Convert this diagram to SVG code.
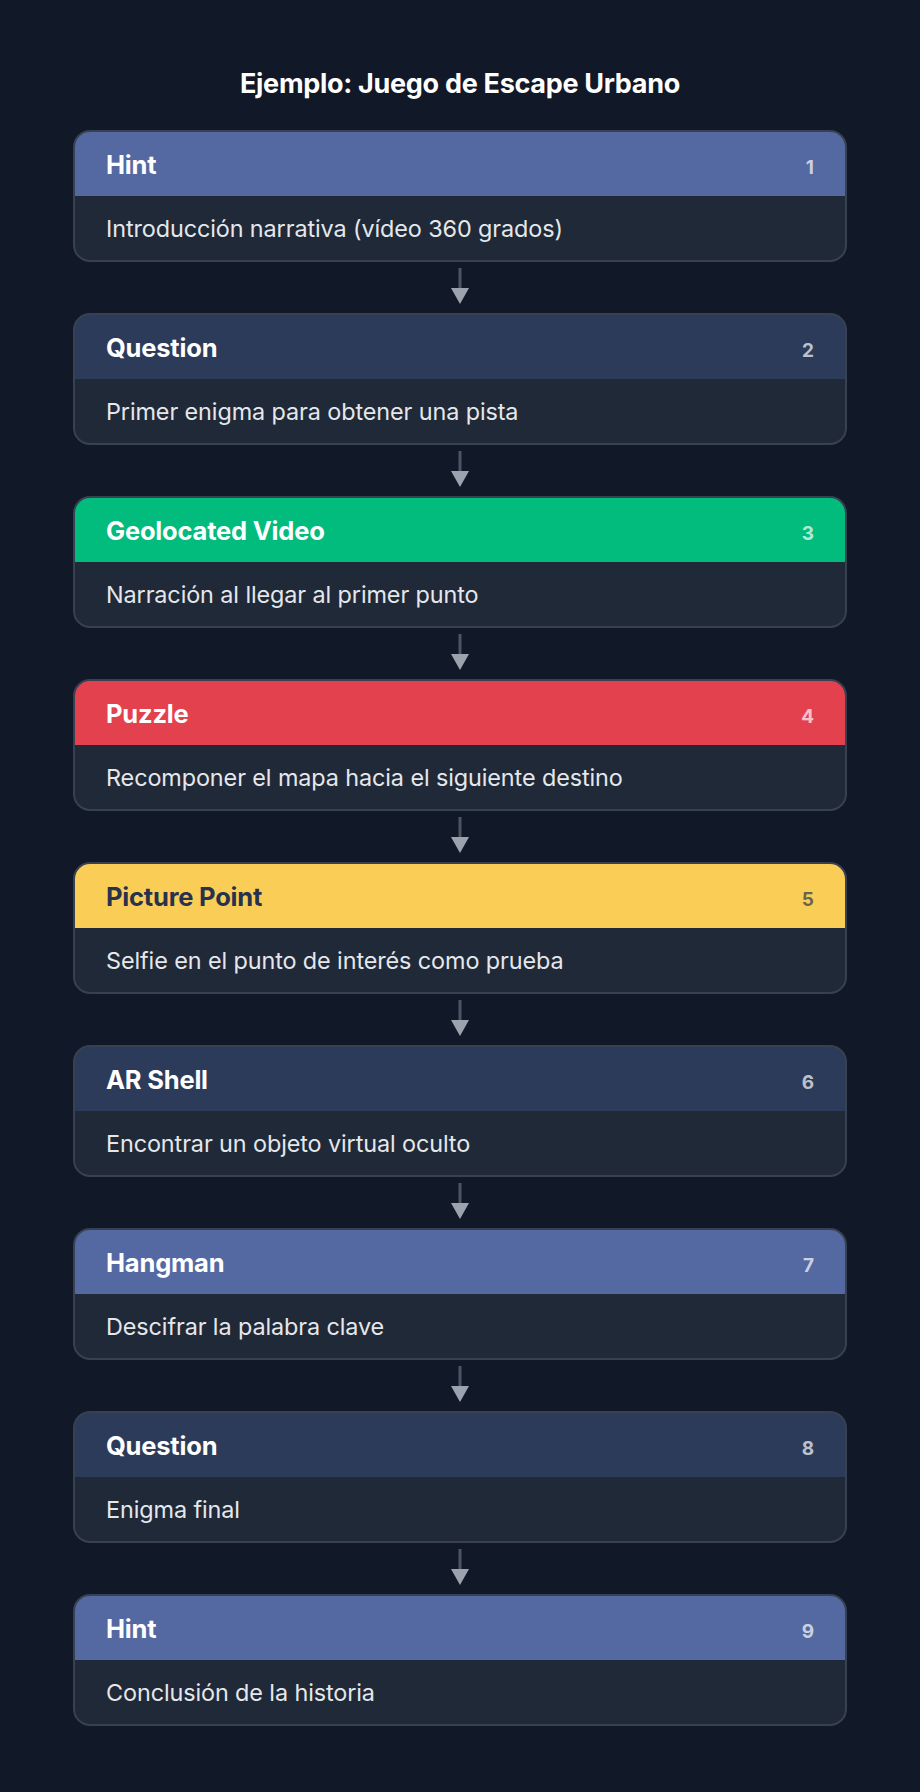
<svg xmlns="http://www.w3.org/2000/svg" width="920" height="1792" viewBox="0 0 920 1792">
<style>
  .title{font-family:Inter,"Liberation Sans",sans-serif;font-weight:700;font-size:27px;fill:#ffffff;letter-spacing:-0.3px}
  .body{fill:#1f2937}
  .border{fill:none;stroke:#374151;stroke-width:2}
  .hl{font-family:Inter,"Liberation Sans",sans-serif;font-weight:700;font-size:25.5px;fill:#ffffff;letter-spacing:-0.2px}
  .num{font-family:Inter,"Liberation Sans",sans-serif;font-weight:700;font-size:19px;fill:#ffffff;fill-opacity:0.7}
  .desc{font-family:Inter,"Liberation Sans",sans-serif;font-weight:400;font-size:23.4px;fill:#e5e7eb;letter-spacing:-0.1px}
  .dark{fill:#27324f}
  .conn{stroke:#4b5563;stroke-width:3;fill:none}
</style>
<defs>
  <marker id="ah" markerUnits="userSpaceOnUse" markerWidth="16" markerHeight="18" refX="0" refY="9" orient="auto">
    <path d="M0,0 L16,9 L0,18 z" fill="#9ca3af"/>
  </marker>
  <path id="hdr" d="M74,16 a16,16 0 0 1 16,-16 h740 a16,16 0 0 1 16,16 v49 h-772 z"/>
</defs>
<rect width="920" height="1792" fill="#111827"/>
<text class="title" x="460" y="93" text-anchor="middle">Ejemplo: Juego de Escape Urbano</text>

<g id="connectors">
  <line class="conn" x1="460" y1="268" x2="460" y2="288" marker-end="url(#ah)"/>
  <line class="conn" x1="460" y1="451" x2="460" y2="471" marker-end="url(#ah)"/>
  <line class="conn" x1="460" y1="634" x2="460" y2="654" marker-end="url(#ah)"/>
  <line class="conn" x1="460" y1="817" x2="460" y2="837" marker-end="url(#ah)"/>
  <line class="conn" x1="460" y1="1000" x2="460" y2="1020" marker-end="url(#ah)"/>
  <line class="conn" x1="460" y1="1183" x2="460" y2="1203" marker-end="url(#ah)"/>
  <line class="conn" x1="460" y1="1366" x2="460" y2="1386" marker-end="url(#ah)"/>
  <line class="conn" x1="460" y1="1549" x2="460" y2="1569" marker-end="url(#ah)"/>
</g>

<g id="node1" transform="translate(0,131)">
  <rect class="body" x="74" y="0" width="772" height="130" rx="16"/>
  <use href="#hdr" fill="#5469a1"/>
  <rect class="border" x="74" y="0" width="772" height="130" rx="16"/>
  <text class="hl" x="106" y="43">Hint</text>
  <text class="num" x="814" y="43" text-anchor="end">1</text>
  <text class="desc" x="106" y="106">Introducción narrativa (vídeo 360 grados)</text>
</g>

<g id="node2" transform="translate(0,314)">
  <rect class="body" x="74" y="0" width="772" height="130" rx="16"/>
  <use href="#hdr" fill="#2d3b5a"/>
  <rect class="border" x="74" y="0" width="772" height="130" rx="16"/>
  <text class="hl" x="106" y="43">Question</text>
  <text class="num" x="814" y="43" text-anchor="end">2</text>
  <text class="desc" x="106" y="106">Primer enigma para obtener una pista</text>
</g>

<g id="node3" transform="translate(0,497)">
  <rect class="body" x="74" y="0" width="772" height="130" rx="16"/>
  <use href="#hdr" fill="#02bc7d"/>
  <rect class="border" x="74" y="0" width="772" height="130" rx="16"/>
  <text class="hl" x="106" y="43">Geolocated Video</text>
  <text class="num" x="814" y="43" text-anchor="end">3</text>
  <text class="desc" x="106" y="106">Narración al llegar al primer punto</text>
</g>

<g id="node4" transform="translate(0,680)">
  <rect class="body" x="74" y="0" width="772" height="130" rx="16"/>
  <use href="#hdr" fill="#e2414d"/>
  <rect class="border" x="74" y="0" width="772" height="130" rx="16"/>
  <text class="hl" x="106" y="43">Puzzle</text>
  <text class="num" x="814" y="43" text-anchor="end">4</text>
  <text class="desc" x="106" y="106">Recomponer el mapa hacia el siguiente destino</text>
</g>

<g id="node5" transform="translate(0,863)">
  <rect class="body" x="74" y="0" width="772" height="130" rx="16"/>
  <use href="#hdr" fill="#facd56"/>
  <rect class="border" x="74" y="0" width="772" height="130" rx="16"/>
  <text class="hl dark" x="106" y="43">Picture Point</text>
  <text class="num dark" x="814" y="43" text-anchor="end">5</text>
  <text class="desc" x="106" y="106">Selfie en el punto de interés como prueba</text>
</g>

<g id="node6" transform="translate(0,1046)">
  <rect class="body" x="74" y="0" width="772" height="130" rx="16"/>
  <use href="#hdr" fill="#2d3b5a"/>
  <rect class="border" x="74" y="0" width="772" height="130" rx="16"/>
  <text class="hl" x="106" y="43">AR Shell</text>
  <text class="num" x="814" y="43" text-anchor="end">6</text>
  <text class="desc" x="106" y="106">Encontrar un objeto virtual oculto</text>
</g>

<g id="node7" transform="translate(0,1229)">
  <rect class="body" x="74" y="0" width="772" height="130" rx="16"/>
  <use href="#hdr" fill="#5469a1"/>
  <rect class="border" x="74" y="0" width="772" height="130" rx="16"/>
  <text class="hl" x="106" y="43">Hangman</text>
  <text class="num" x="814" y="43" text-anchor="end">7</text>
  <text class="desc" x="106" y="106">Descifrar la palabra clave</text>
</g>

<g id="node8" transform="translate(0,1412)">
  <rect class="body" x="74" y="0" width="772" height="130" rx="16"/>
  <use href="#hdr" fill="#2d3b5a"/>
  <rect class="border" x="74" y="0" width="772" height="130" rx="16"/>
  <text class="hl" x="106" y="43">Question</text>
  <text class="num" x="814" y="43" text-anchor="end">8</text>
  <text class="desc" x="106" y="106">Enigma final</text>
</g>

<g id="node9" transform="translate(0,1595)">
  <rect class="body" x="74" y="0" width="772" height="130" rx="16"/>
  <use href="#hdr" fill="#5469a1"/>
  <rect class="border" x="74" y="0" width="772" height="130" rx="16"/>
  <text class="hl" x="106" y="43">Hint</text>
  <text class="num" x="814" y="43" text-anchor="end">9</text>
  <text class="desc" x="106" y="106">Conclusión de la historia</text>
</g>
</svg>
